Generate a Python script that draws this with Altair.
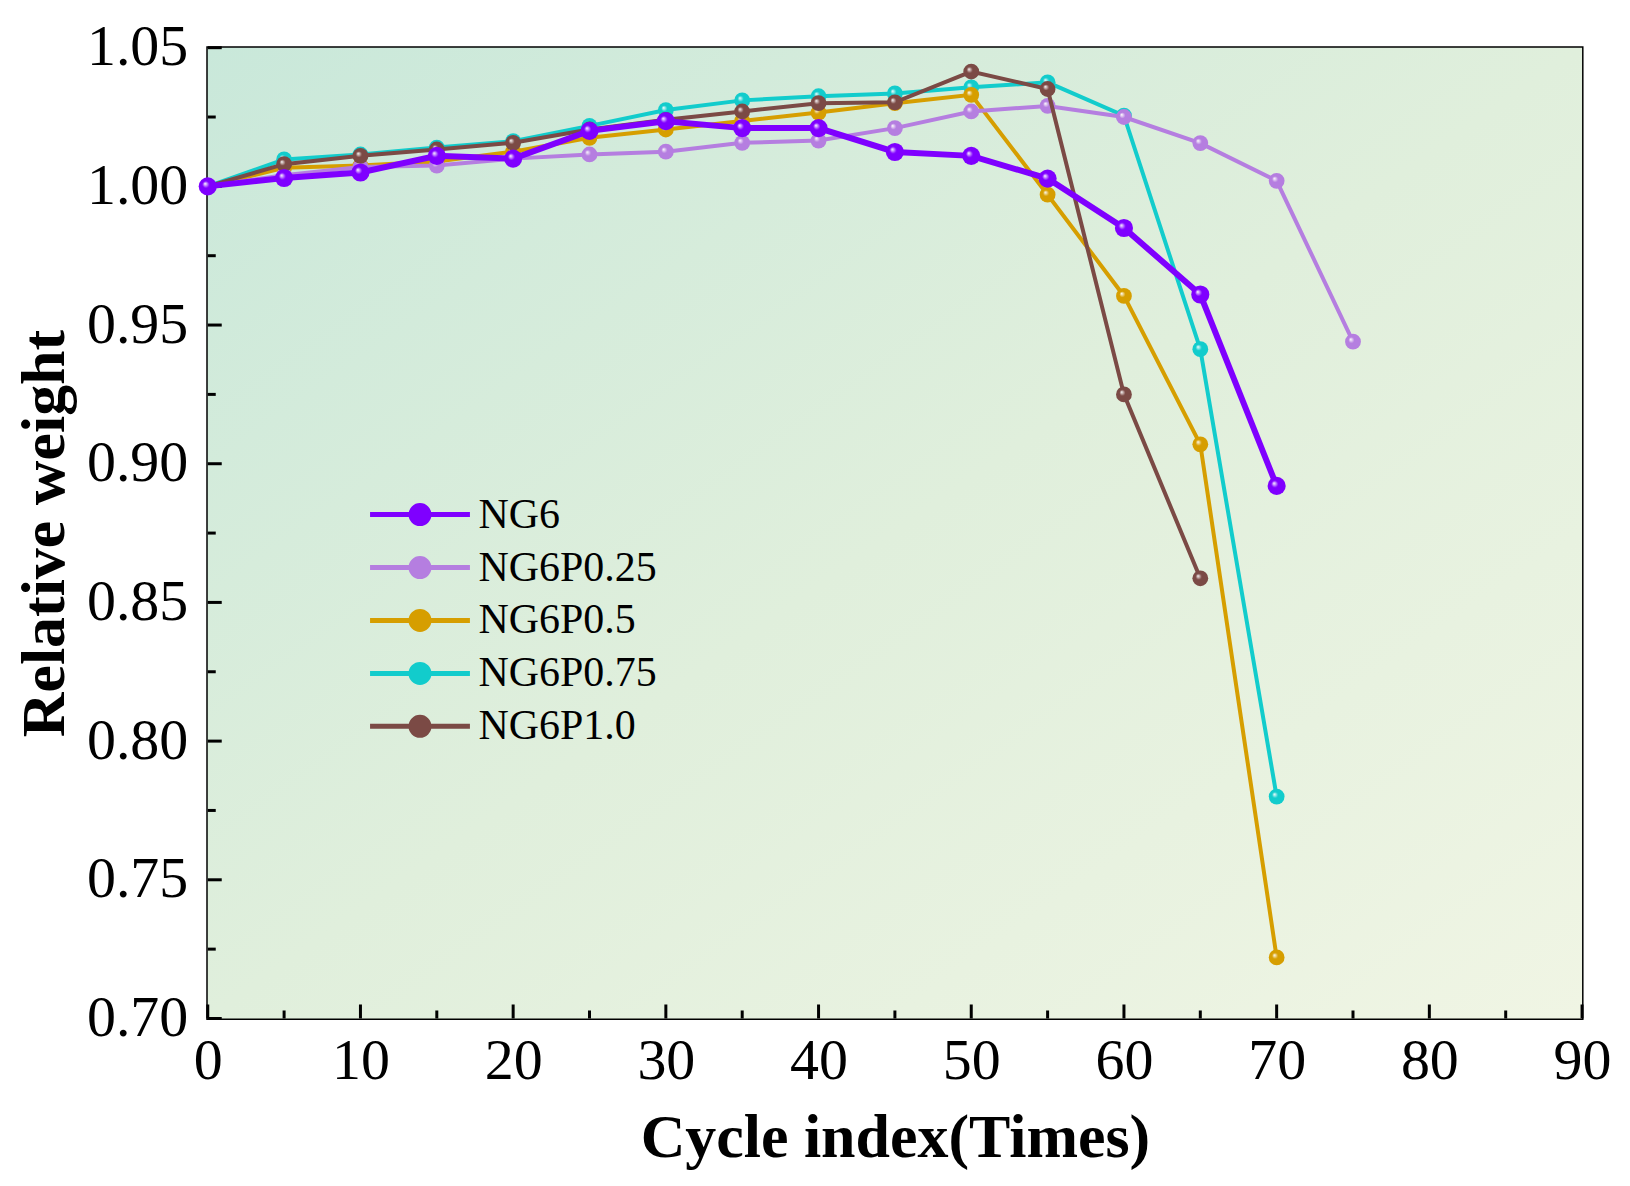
import altair as alt
import pandas as pd

# ---------------- data ----------------
series_names = ["NG6", "NG6P0.25", "NG6P0.5", "NG6P0.75", "NG6P1.0"]
series_colors = ["#7f00ff", "#b57ee0", "#d69e00", "#12cccc", "#7b4a45"]
line_widths = [6, 4, 4, 4, 4]
point_sizes = [330, 250, 250, 250, 250]

cycles_70 = [0, 5, 10, 15, 20, 25, 30, 35, 40, 45, 50, 55, 60, 65, 70]
cycles_75 = cycles_70 + [75]
cycles_65 = cycles_70[:-1]

ng6 = [1.000, 1.003, 1.005, 1.011, 1.010, 1.020, 1.0235, 1.021, 1.021,
       1.0124, 1.011, 1.0028, 0.985, 0.961, 0.892]
ng6p025 = [1.000, 1.004, 1.007, 1.0075, 1.010, 1.0115, 1.0125, 1.0157, 1.0165,
           1.021, 1.027, 1.029, 1.025, 1.0156, 1.002, 0.944]
ng6p05 = [1.000, 1.0067, 1.0075, 1.009, 1.0125, 1.0175, 1.0205, 1.0236, 1.0266,
          1.030, 1.033, 0.997, 0.9605, 0.907, 0.722]
ng6p075 = [1.000, 1.0097, 1.0115, 1.014, 1.0163, 1.0218, 1.0275, 1.031, 1.0325,
           1.0335, 1.0357, 1.0375, 1.0255, 0.9413, 0.780]
ng6p10 = [1.000, 1.008, 1.011, 1.0133, 1.0157, 1.0205, 1.024, 1.027, 1.030,
          1.0303, 1.0414, 1.0351, 0.925, 0.8587]

series_x = [cycles_70, cycles_75, cycles_70, cycles_70, cycles_65]
series_y = [ng6, ng6p025, ng6p05, ng6p075, ng6p10]

y_major = [0.70, 0.75, 0.80, 0.85, 0.90, 0.95, 1.00, 1.05]
y_minor = [0.725, 0.775, 0.825, 0.875, 0.925, 0.975, 1.025]
x_major = [0, 10, 20, 30, 40, 50, 60, 70, 80, 90]
x_minor = [5, 15, 25, 35, 45, 55, 65, 75, 85]

# ---------------- chart ----------------
W, H = 1376, 972
FONT = "Liberation Serif"

frames = []
for name, xs, ys in zip(series_names, series_x, series_y):
    frames.append(pd.DataFrame({"cycle": xs, "weight": ys, "series": name}))
df = pd.concat(frames, ignore_index=True)

xscale = alt.Scale(domain=[0, 90], nice=False, zero=False)
yscale = alt.Scale(domain=[0.70, 1.05], nice=False, zero=False)

x_enc = alt.X("cycle:Q", scale=xscale,
              axis=alt.Axis(values=x_major, format="d", title="Cycle index(Times)",
                            ticks=False, domain=False, grid=False,
                            labelFont=FONT, labelFontSize=58, labelColor="black",
                            labelPadding=14, labelFlush=False,
                            titleFont=FONT, titleFontSize=62, titleFontWeight="bold",
                            titleColor="black", titleY=138, titleBaseline="alphabetic"))
y_enc = alt.Y("weight:Q", scale=yscale,
              axis=alt.Axis(values=y_major, format=".2f", title="Relative weight",
                            ticks=False, domain=False, grid=False,
                            labelFont=FONT, labelFontSize=58, labelColor="black",
                            labelPadding=20, labelFlush=False,
                            titleFont=FONT, titleFontSize=62, titleFontWeight="bold",
                            titleColor="black", titleX=-163, titleY=H / 2,
                            titleAngle=270, titleAlign="center",
                            titleBaseline="middle"))

bg = alt.Chart(pd.DataFrame({"a": [0]})).mark_rect(
    fill=alt.LinearGradient(
        gradient="linear",
        stops=[alt.GradientStop(offset=0, color="#c9e8da"),
               alt.GradientStop(offset=0.5, color="#e0efdc"),
               alt.GradientStop(offset=1, color="#f0f5e4")],
        x1=0, y1=0, x2=1, y2=1),
    stroke=None,
).encode(x=alt.value(0), x2=alt.value("width"), y=alt.value(0), y2=alt.value("height"))

ytick_major = alt.Chart(pd.DataFrame({"v": y_major})).mark_rule(
    color="black", strokeWidth=3).encode(
    y=alt.Y("v:Q", scale=yscale), x=alt.value(0), x2=alt.value(14))
ytick_minor = alt.Chart(pd.DataFrame({"v": y_minor})).mark_rule(
    color="black", strokeWidth=3).encode(
    y=alt.Y("v:Q", scale=yscale), x=alt.value(0), x2=alt.value(8))
xtick_major = alt.Chart(pd.DataFrame({"v": x_major})).mark_rule(
    color="black", strokeWidth=3).encode(
    x=alt.X("v:Q", scale=xscale), y=alt.value(H), y2=alt.value(H - 14))
xtick_minor = alt.Chart(pd.DataFrame({"v": x_minor})).mark_rule(
    color="black", strokeWidth=3).encode(
    x=alt.X("v:Q", scale=xscale), y=alt.value(H), y2=alt.value(H - 8))

legend_path = ("M-2,0L2,0"
               "M-0.36,0A0.36,0.36,0,1,0,0.36,0A0.36,0.36,0,1,0,-0.36,0"
               "M-0.22,0A0.22,0.22,0,1,0,0.22,0A0.22,0.22,0,1,0,-0.22,0"
               "M-0.08,0A0.08,0.08,0,1,0,0.08,0A0.08,0.08,0,1,0,-0.08,0")

color_scale = alt.Scale(domain=series_names, range=series_colors)
legend = alt.Legend(title=None, orient="none", legendX=185, legendY=440,
                    symbolType=legend_path, symbolSize=2500, symbolStrokeWidth=5,
                    labelFont=FONT, labelFontSize=42, labelColor="black",
                    labelOffset=31, rowPadding=4, padding=0,
                    labelLimit=400)

draw_order = ["NG6P0.75", "NG6P0.5", "NG6P0.25", "NG6P1.0", "NG6"]
layers = [bg, ytick_major, ytick_minor, xtick_major, xtick_minor]
for name in draw_order:
    i = series_names.index(name)
    sub = df[df["series"] == name]
    line = alt.Chart(sub).mark_line(strokeWidth=line_widths[i]).encode(
        x=x_enc, y=y_enc,
        color=alt.Color("series:N", scale=color_scale, legend=legend))
    pts = alt.Chart(sub).mark_point(
        filled=True, shape="circle", size=point_sizes[i], opacity=1, strokeWidth=0,
        fill=alt.RadialGradient(
            gradient="radial",
            stops=[alt.GradientStop(offset=0, color="#ffffff"),
                   alt.GradientStop(offset=0.35, color=series_colors[i]),
                   alt.GradientStop(offset=1, color=series_colors[i])],
            x1=0.35, y1=0.35, r1=0, x2=0.5, y2=0.5, r2=0.55),
    ).encode(x=x_enc, y=y_enc)
    layers += [line, pts]

chart = alt.layer(*layers).properties(
    width=W, height=H,
    autosize="none",
    padding={"left": 200, "top": 39, "right": 40, "bottom": 160},
    background="white",
).configure_view(stroke="black", strokeWidth=3)

chart.save("out.html", embed_options={"renderer": "svg", "actions": False})
